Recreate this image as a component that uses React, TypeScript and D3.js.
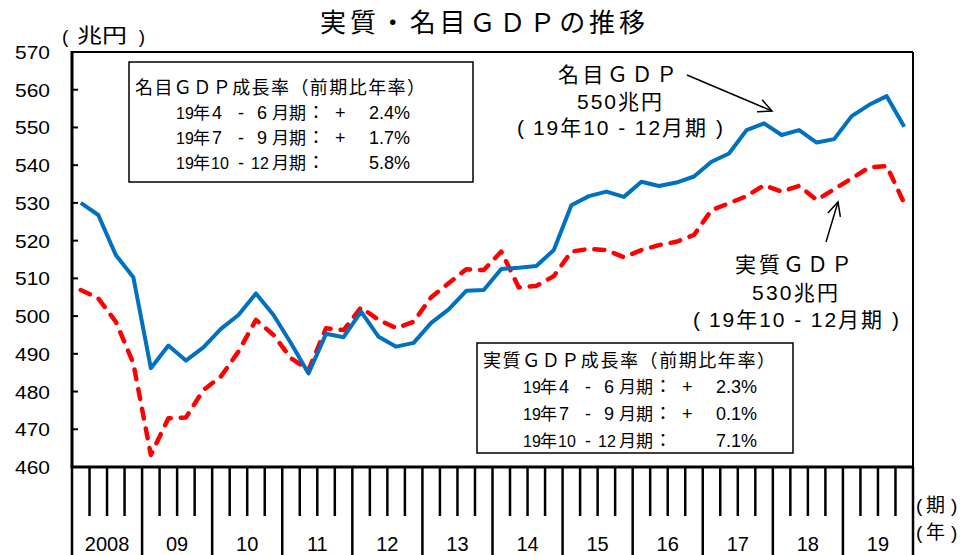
import React from 'react';
import * as d3 from 'd3';

const years = ['2008', '09', '10', '11', '12', '13', '14', '15', '16', '17', '18', '19'];
const yTicks = [460, 470, 480, 490, 500, 510, 520, 530, 540, 550, 560, 570];

// Quarterly, 2008 Q1 .. 2019 Q4 (trillion yen)
const nominal = [
  530.0, 526.8, 516.2, 510.3,
  486.2, 492.2, 488.2, 491.7,
  496.6, 500.3, 506.0, 500.3,
  492.8, 484.8, 495.3, 494.4,
  501.2, 494.5, 491.9, 492.9,
  498.2, 501.8, 506.7, 506.9,
  512.5, 512.8, 513.3, 517.5,
  529.4, 531.8, 533.0, 531.6,
  535.6, 534.5, 535.4, 537.0,
  540.9, 543.1, 549.3, 551.1,
  548.0, 549.3, 546.0, 546.9,
  553.0, 556.0, 558.3, 550.2,
];
const real = [
  506.9, 504.7, 498.5, 487.5,
  463.2, 472.9, 473.1, 480.4,
  484.0, 490.6, 499.0, 495.0,
  488.8, 485.7, 496.8, 496.3,
  502.3, 499.0, 496.8, 498.5,
  505.0, 508.7, 512.4, 512.2,
  517.1, 507.6, 508.0, 510.6,
  517.1, 517.8, 517.5, 515.6,
  517.5, 518.8, 519.7, 521.5,
  528.1, 529.9, 531.8, 534.7,
  533.0, 534.5, 530.8, 533.6,
  536.5, 539.4, 539.8, 529.9,
];

const title = '実質・名目ＧＤＰの推移';
const unitLabel = '兆円';
const nominalBoxHeader = '名目ＧＤＰ成長率（前期比年率）';
const realBoxHeader = '実質ＧＤＰ成長率（前期比年率）';
const nominalRates = ['2.4%', '1.7%', '5.8%'];
const realRates = ['2.3%', '0.1%', '7.1%'];
const nominalNote = ['名目ＧＤＰ', '550兆円', '19年10 - 12月期'];
const realNote = ['実質ＧＤＰ', '530兆円', '19年10 - 12月期'];

const FONT = "'Liberation Sans', Arial, 'Noto Sans CJK JP', sans-serif";

const L = 72, R = 913, T = 52, B = 467;
const NQ = years.length * 4;

function RateRows({ x0, ys, rates }: { x0: number; ys: number[]; rates: string[] }) {
  // [text, dx, fontSize]
  const rows = [
    [['19', 0, 16], ['年', 17, 17], ['4', 36], ['-', 62], ['6', 81], ['月期', 96, 17], ['：', 131], ['+', 159]],
    [['19', 0, 16], ['年', 17, 17], ['7', 36], ['-', 62], ['9', 81], ['月期', 96, 17], ['：', 131], ['+', 159]],
    [['19', 0, 16], ['年', 17, 17], ['10', 35, 16], ['-', 62], ['12', 75, 16], ['月期', 96, 17], ['：', 131]],
  ] as [string, number, number?][][];
  return (
    <g fontFamily={FONT} fontSize={18} fill="#000">
      {rows.map((segs, r) => (
        <text key={r} y={ys[r]}>
          {segs.map(([t, dx, fs], k) => (
            <tspan key={k} x={x0 + dx} fontSize={fs || 18}>{t}</tspan>
          ))}
          <tspan x={x0 + 234} textAnchor="end">{rates[r]}</tspan>
        </text>
      ))}
    </g>
  );
}

function Arrow({ x1, y1, x2, y2 }: { x1: number; y1: number; y2: number; x2: number }) {
  const a = Math.atan2(y2 - y1, x2 - x1);
  const len = 15, spread = 0.45;
  const p1 = [x2 - len * Math.cos(a - spread), y2 - len * Math.sin(a - spread)];
  const p2 = [x2 - len * Math.cos(a + spread), y2 - len * Math.sin(a + spread)];
  return (
    <g stroke="#000" strokeWidth={1.5} fill="none">
      <line x1={x1} y1={y1} x2={x2} y2={y2} />
      <polyline points={`${p1[0]},${p1[1]} ${x2},${y2} ${p2[0]},${p2[1]}`} />
    </g>
  );
}

function Paren({ x0, x1, y, fs, inner, innerStart, innerLen, adj = 'spacing', innerFs }: { x0: number; x1: number; y: number; fs: number; inner: string; innerStart: number; innerLen: number; adj?: string; innerFs?: number }) {
  return (
    <g fontSize={fs}>
      <text x={x0} y={y}>(</text>
      <text x={innerStart} y={y} fontSize={innerFs || fs} textLength={innerLen} lengthAdjust={adj}>{inner}</text>
      <text x={x1} y={y} textAnchor="end">)</text>
    </g>
  );
}

function SmallParen({ x, y, inner }: { x: number; y: number; inner: string }) {
  return (
    <text x={x} y={y} fontSize={19}>
      <tspan x={x}>(</tspan>
      <tspan x={x + 10}>{inner}</tspan>
      <tspan x={x + 35}>)</tspan>
    </text>
  );
}

export default function App() {
  const x = d3.scaleLinear().domain([0, NQ]).range([L, R]);
  const y = d3.scaleLinear().domain([460, 570]).range([B, T]);
  const line = d3.line<number>().x((_, i) => x(i + 0.5)).y((d) => y(d));

  const quarterTicks = d3.range(0, NQ + 1);

  return (
    <svg
      width={967}
      height={555}
      style={{ position: 'fixed', left: 0, top: 0, background: '#fff' }}
      fontFamily={FONT}
    >
      <rect x={0} y={0} width={967} height={555} fill="#fff" />
      {/* title */}
      <text x={320} y={32} fontSize={26} textLength={325} lengthAdjust="spacing">{title}</text>
      <Paren x0={62} x1={145} y={43} fs={19} inner={unitLabel} innerStart={77} innerLen={50} adj="spacingAndGlyphs" innerFs={20} />

      {/* y tick labels */}
      {yTicks.map((v) => (
        <text key={v} x={50} y={y(v) + 7} fontSize={19} textAnchor="end" textLength={35} lengthAdjust="spacingAndGlyphs">
          {v}
        </text>
      ))}
      {/* y ticks inside */}
      {yTicks.map((v) => (
        <line key={'t' + v} x1={L} x2={L + 6} y1={y(v)} y2={y(v)} stroke="#000" strokeWidth={2} />
      ))}

      {/* frame */}
      <line x1={L} x2={R} y1={T} y2={T} stroke="#000" strokeWidth={2} />
      <line x1={R} x2={R} y1={T} y2={B} stroke="#000" strokeWidth={2} />

      {/* series */}
      <path d={line(real) || ''} fill="none" stroke="#FF0000" strokeWidth={4.5} strokeDasharray="10 10" strokeLinecap="round" strokeLinejoin="round" />
      <path d={line(nominal) || ''} fill="none" stroke="#0070C0" strokeWidth={4} strokeLinejoin="round" />

      {/* axes */}
      <line x1={L} x2={L} y1={T - 1} y2={B} stroke="#000" strokeWidth={3} />
      <line x1={L - 1.5} x2={R + 1} y1={B} y2={B} stroke="#000" strokeWidth={3} />

      {/* x ticks */}
      {quarterTicks.map((q) => (
        <line
          key={'q' + q}
          x1={x(q)}
          x2={x(q)}
          y1={B}
          y2={q % 4 === 0 ? 555 : 516}
          stroke="#000"
          strokeWidth={2.5}
        />
      ))}
      {years.map((yr, k) => (
        <text key={yr} x={x(k * 4 + 2)} y={551} fontSize={20} textAnchor="middle">{yr}</text>
      ))}
      <SmallParen x={916} y={512} inner="期" />
      <SmallParen x={916} y={539} inner="年" />

      {/* nominal growth box */}
      <rect x={129} y={62} width={344} height={120} fill="#fff" stroke="#000" strokeWidth={1.5} />
      <text x={135} y={94} fontSize={18} textLength={290} lengthAdjust="spacing">{nominalBoxHeader}</text>
      <RateRows x0={176} ys={[119, 144, 169]} rates={nominalRates} />

      {/* real growth box */}
      <rect x={477} y={343} width={316} height={110} fill="#fff" stroke="#000" strokeWidth={1.5} />
      <text x={483} y={367} fontSize={18} textLength={292} lengthAdjust="spacing">{realBoxHeader}</text>
      <RateRows x0={523} ys={[393, 420, 447]} rates={realRates} />

      {/* annotations */}
      <text x={558} y={82} fontSize={21} textLength={119} lengthAdjust="spacing">{nominalNote[0]}</text>
      <text x={577} y={109} fontSize={21} textLength={85} lengthAdjust="spacing">{nominalNote[1]}</text>
      <Paren x0={517} x1={723} y={135} fs={21} inner={nominalNote[2]} innerStart={533} innerLen={173} />
      <Arrow x1={687} y1={75} x2={772} y2={111} />

      <text x={735} y={272} fontSize={21} textLength={117} lengthAdjust="spacing">{realNote[0]}</text>
      <text x={752} y={300} fontSize={21} textLength={86} lengthAdjust="spacing">{realNote[1]}</text>
      <Paren x0={693} x1={899} y={327} fs={21} inner={realNote[2]} innerStart={709} innerLen={173} />
      <Arrow x1={826} y1={242} x2={838} y2={202} />
    </svg>
  );
}
